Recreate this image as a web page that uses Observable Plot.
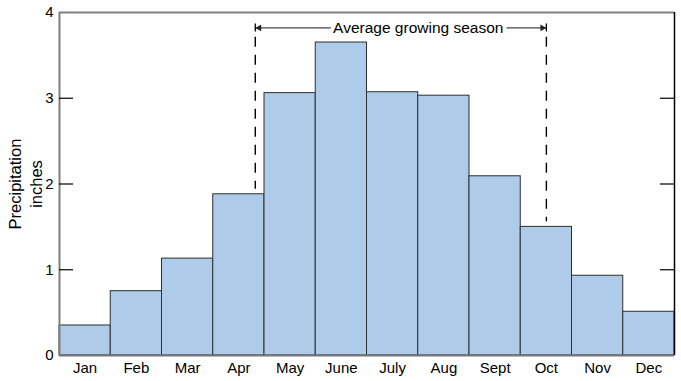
<!DOCTYPE html>
<html>
<head>
<meta charset="utf-8">
<script src="https://cdn.jsdelivr.net/npm/d3@7"></script>
<script src="https://cdn.jsdelivr.net/npm/@observablehq/plot@0.6"></script>
<style>
  html, body { margin: 0; padding: 0; background: #fff; }
  #chart { width: 681px; height: 381px; }
</style>
</head>
<body>
<div id="chart"></div>
<script>
// ---- data ----
const months = ["Jan","Feb","Mar","Apr","May","June","July","Aug","Sept","Oct","Nov","Dec"];
const precipitation = [0.35, 0.75, 1.13, 1.88, 3.06, 3.65, 3.07, 3.03, 2.09, 1.50, 0.93, 0.51];
const yTicks = [0, 1, 2, 3, 4];
const innerTicks = [1, 2, 3];
const yTitle = "Precipitation\ninches";
// growing season (month position: 0 = start of Jan)
const seasonLabel = "Average growing season";
const seasonBounds = [3.82, 9.5];
const seasonArrowLevel = 3.82;
const seasonLabelPos = 7.0;
const seasonDashTop = [3.71, 3.71];
const seasonDashBottom = [1.94, 1.56];

const rows = months.map((m, i) => ({month: m, start: i, end: i + 1, value: precipitation[i]}));
const centers = months.map((m, i) => i + 0.5);
const dashes = seasonBounds.map((x, i) => ({x, y1: seasonDashTop[i], y2: seasonDashBottom[i]}));

const chart = Plot.plot({
  width: 681,
  height: 381,
  marginLeft: 59,
  marginRight: 7,
  marginTop: 12,
  marginBottom: 26,
  x: {domain: [0, 12]},
  y: {domain: [0, 4]},
  style: {fontFamily: "'Liberation Sans', Arial, Helvetica, sans-serif", fontSize: "15px", color: "black", background: "white"},
  marks: [
    Plot.rectY(rows, {x1: "start", x2: "end", y: "value", fill: "#aecbea", stroke: "#2e2e2e", strokeWidth: 1}),
    // frame
    Plot.ruleY([0], {stroke: "#777", strokeWidth: 2}),
    Plot.ruleY([4], {stroke: "#808080", strokeWidth: 2}),
    Plot.ruleX([0], {stroke: "#808080", strokeWidth: 2}),
    Plot.ruleX([12], {stroke: "black", strokeWidth: 1.5}),
    // inward ticks
    Plot.ruleY(innerTicks, {x1: 0, x2: 0, insetRight: -14, stroke: "black", strokeWidth: 1.2}),
    Plot.ruleY(innerTicks, {x1: 12, x2: 12, insetLeft: -14, stroke: "black", strokeWidth: 1.2}),
    // axes
    Plot.axisY(yTicks, {anchor: "left", tickSize: 0, tickPadding: 6, tickFormat: d3.format("d"), label: null, fontSize: 15}),
    Plot.axisX(centers, {anchor: "bottom", tickSize: 0, tickPadding: 7, tickFormat: d => months[Math.floor(d)], label: null, fontSize: 15}),
    Plot.text([yTitle], {frameAnchor: "left", rotate: -90, dx: -35, lineAnchor: "middle", textAnchor: "middle", fontSize: 16.5, lineHeight: 1.3}),
    // growing season annotation
    Plot.ruleX(dashes, {x: "x", y1: "y1", y2: "y2", stroke: "black", strokeWidth: 1.4, strokeDasharray: "10,8"}),
    Plot.ruleY([seasonArrowLevel], {x1: seasonBounds[0], x2: seasonBounds[1], stroke: "#444", strokeWidth: 1.3}),
    Plot.dot([seasonBounds[0]], {x: d => d, y: seasonArrowLevel, symbol: "triangle2", rotate: -90, r: 3.2, dx: 4, fill: "#222"}),
    Plot.dot([seasonBounds[1]], {x: d => d, y: seasonArrowLevel, symbol: "triangle2", rotate: 90, r: 3.2, dx: -4, fill: "#222"}),
    Plot.ruleX(seasonBounds, {y1: seasonArrowLevel, y2: seasonArrowLevel, insetTop: -4, insetBottom: -4, stroke: "black", strokeWidth: 1.3}),
    Plot.text([seasonLabel], {x: seasonLabelPos, y: seasonArrowLevel, fontSize: 15.5, fill: "black", stroke: "white", strokeWidth: 8, textAnchor: "middle"})
  ]
});
document.getElementById("chart").appendChild(chart);
</script>
</body>
</html>
